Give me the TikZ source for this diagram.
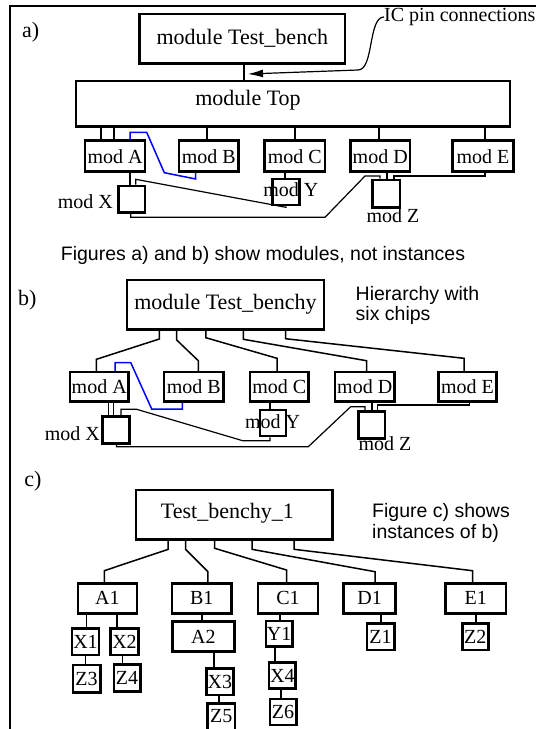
\documentclass[tikz,border=0pt]{standalone}
\usepackage{fontspec}
\setmainfont{Liberation Serif}
\setsansfont{Liberation Sans}
\usetikzlibrary{arrows.meta}

\begin{document}
\begin{tikzpicture}[x=1pt, y=-1pt,
  sz/.style 2 args={minimum width=#1pt, minimum height=#2pt},
  mod box/.style={draw, line width=2.6pt, inner sep=0pt, font=\fontsize{20}{22}\selectfont},
  big box/.style={draw, line width=2.6pt, inner sep=0pt, font=\fontsize{22}{24}\selectfont},
  big text/.style={inner sep=0pt, font=\fontsize{22}{24}\selectfont},
  mod label/.style={inner sep=0pt, font=\fontsize{20}{22}\selectfont},
  side note/.style={inner sep=0pt, align=left, font=\sffamily\fontsize{19.5}{20.5}\selectfont},
  wire/.style={line width=1.8pt},
  tree wire/.style={line width=1.5pt},
  thin wire/.style={line width=1.2pt},
  blue wire/.style={draw=blue, line width=1.5pt}]
\useasboundingbox (0,0) rectangle (536,729);
\draw[line width=1.2pt] (10,729) -- (10,6) -- (536,6);

% a) modules
\node[big text] (parta) at (30.7,32) {a)};
\node[big box, sz={205.5}{49.3}] (tb) at (242.3,38.7) {module Test\_bench};
\node[big box, sz={434}{45.7}] (top) at (293,103.9) {};
\node[big text] (toptext) at (248,100) {module Top};
\node[mod label, anchor=west] (ic) at (384,17) {IC pin connections};
\coordinate (ictip) at (248,74);
\node[mod box, sz={60}{31}] (mA) at (115,156.2) {mod A};
\node[mod box, sz={59.3}{31}] (mB) at (208.7,156.2) {mod B};
\node[mod box, sz={60.7}{31}] (mC) at (294.7,156.2) {mod C};
\node[mod box, sz={59.7}{31}] (mD) at (380.2,156.2) {mod D};
\node[mod box, sz={60.6}{31}] (mE) at (483,156.2) {mod E};
\node[mod box, sz={26.7}{26.7}] (mX) at (131.7,199.3) {};
\node[mod box, sz={26.6}{26}] (mY) at (286,192) {};
\node[mod box, sz={27.3}{27.7}] (mZ) at (386.3,193.8) {};
\node[mod label] (lX) at (85.3,201.7) {mod X};
\node[mod label] (lY) at (290.8,190) {mod Y};
\node[mod label] (lZ) at (393,216) {mod Z};

\draw[wire] (tb.south -| 244,0) -- (top.north -| 244,0);
\draw[thin wire, -{Latex[length=15pt, width=8pt]}] (ic.west) .. controls (368,17) and (374,70) .. (358,70) -- (ictip);
\foreach \n/\x in {mA/101, mA/113.7, mB/206.7, mC/295, mD/379, mE/485}
  \draw[wire] (top.south -| \x,0) -- (\n.north -| \x,0);
\draw[blue wire] (mA.north -| 130,0) -- (130,132.3) -- (146.7,132.3) -- (164.3,172.7) -- (195.7,179) -- (mB.south -| 195.7,0);
\draw[wire] (mA.south -| 130,0) -- (mX.north -| 130,0);
\draw[wire] (mC.south -| 285,0) -- (mY.north -| 285,0);
\draw[wire] (mD.south -| 387.3,0) -- (mZ.north -| 387.3,0);
\draw[thin wire] (mX.north -| 135.7,0) -- (135.7,179.3) -- (286,207.3) -- (mY.south -| 286,0);
\draw[thin wire] (mX.south -| 130.7,0) -- (130.7,217.3) -- (325,217.3) -- (365,176) -- (380,176) -- (mZ.north -| 380,0);
\draw[thin wire] (mZ.north -| 394,0) -- (394,176) -- (485,176) -- (mE.south -| 485,0);

\node[side note] (fignote) at (263,255) {Figures a) and b) show modules, not instances};

% b) modules, six chips
\node[big text] (partb) at (27.4,300) {b)};
\node[big box, sz={197}{49.3}] (tby) at (225.5,304.7) {module Test\_benchy};
\node[side note, anchor=west] (hier) at (355.5,305.5) {Hierarchy with\\six chips};
\node[mod box, sz={58.3}{29.7}] (bA) at (99.2,386.9) {mod A};
\node[mod box, sz={59.3}{29.7}] (bB) at (193.7,386.9) {mod B};
\node[mod box, sz={58.3}{29.7}] (bC) at (279.2,386.9) {mod C};
\node[mod box, sz={59.3}{29.7}] (bD) at (364.7,386.9) {mod D};
\node[mod box, sz={58.4}{29.7}] (bE) at (467.5,386.9) {mod E};
\node[mod box, sz={26.6}{26.6}] (bX) at (116,430) {};
\node[mod box, sz={26}{26}] (bY) at (273,423) {};
\node[mod box, sz={26.7}{26.6}] (bZ) at (371.7,425) {};
\node[mod label] (lbX) at (72.3,433.3) {mod X};
\node[mod label] (lbY) at (272.5,421.7) {mod Y};
\node[mod label] (lbZ) at (385,443.3) {mod Z};

\foreach \n/\x/\ya/\xb/\yb in {bA/159.3/339/96.4/359.3, bB/176.7/340/198.3/360.7, bC/205.8/337.7/277/358.3, bD/243.4/339.3/366.5/360.7, bE/285.5/338.7/464/358.3}
  \draw[tree wire] (tby.south -| \x,0) -- (\x,\ya) -- (\xb,\yb) -- (\n.north -| \xb,0);
\draw[blue wire] (bA.north -| 115,0) -- (115,362.5) -- (130.7,362.5) -- (151.7,409) -- (182.3,409) -- (bB.south -| 182.3,0);
\foreach \x in {108.3, 113.3}
  \draw[thin wire] (bA.south -| \x,0) -- (bX.north -| \x,0);
\draw[wire] (bC.south -| 270,0) -- (bY.north -| 270,0);
\draw[wire] (bD.south -| 371.7,0) -- (bZ.north -| 371.7,0);
\draw[thin wire] (bX.north -| 121,0) -- (121,409.3) -- (136.7,409.3) -- (242.7,440.7) -- (270,440.7) -- (bY.south -| 270,0);
\draw[thin wire] (bX.south -| 116.5,0) -- (116.5,446.7) -- (308.3,446.7) -- (350.7,406.7) -- (365,406.7) -- (bZ.north -| 365,0);
\draw[thin wire] (bZ.north -| 377.3,0) -- (377.3,405) -- (469.3,405) -- (bE.south -| 469.3,0);

% c) instances
\node[big text] (partc) at (33,481.7) {c)};
\node[big box, sz={196.6}{49.3}] (tb1) at (234.3,514.7) {};
\node[big text] (tb1text) at (227.4,513) {Test\_benchy\_1};
\node[side note, anchor=west] (inst) at (372,523) {Figure c) shows\\instances of b)};
\node[mod box, sz={58.8}{30}] (A1) at (107.4,598.3) {A1};
\node[mod box, sz={59.5}{30}] (B1) at (201.8,598.3) {B1};
\node[mod box, sz={60}{30}] (C1) at (288,598.3) {C1};
\node[mod box, sz={52}{30}] (D1) at (369.6,598.3) {D1};
\node[mod box, sz={60.5}{30}] (E1) at (475.8,598.3) {E1};
\node[mod box, sz={27.3}{26.7}] (X1) at (85.5,641.7) {X1};
\node[mod box, sz={28.1}{26.7}] (X2) at (124.5,641.7) {X2};
\node[mod box, sz={27.4}{27.7}] (Z3) at (86.5,678.9) {Z3};
\node[mod box, sz={26.4}{27.4}] (Z4) at (127,678) {Z4};
\node[mod box, sz={61.6}{30}] (A2) at (203.4,636.7) {A2};
\node[mod box, sz={27.3}{26.7}] (X3) at (219.9,681.7) {X3};
\node[mod box, sz={27.4}{33}] (Z5) at (221.2,719.8) {};
\node[mod label] (Z5text) at (221.2,716) {Z5};
\node[mod box, sz={26.3}{25.7}] (Y1) at (279.2,633.8) {Y1};
\node[mod box, sz={26.7}{25.6}] (X4) at (282.3,675.5) {X4};
\node[mod box, sz={26.4}{26}] (Z6) at (283,712) {Z6};
\node[mod box, sz={27.4}{26.7}] (Z1) at (380.5,636.7) {Z1};
\node[mod box, sz={26}{26.7}] (Z2) at (475.2,636.7) {Z2};

\foreach \n/\x/\ya/\xb/\yb in {A1/168.2/549.3/104.3/570.7, B1/185.6/549.3/207.9/571.7, C1/214.7/548.3/286.5/570, D1/252/549.3/375/571.7, E1/294/549.3/472.5/570.7}
  \draw[tree wire] (tb1.south -| \x,0) -- (\x,\ya) -- (\xb,\yb) -- (\n.north -| \xb,0);
\foreach \p/\c/\x in {A1/X1/86.5, X1/Z3/85.5, A1/X2/117.3, X2/Z4/122.4, B1/A2/201.7, A2/X3/213.7, X3/Z5/218.8, C1/Y1/279.7, Y1/X4/275.2, X4/Z6/281, D1/Z1/381.2, E1/Z2/475.9}
  \draw[wire] (\p.south -| \x,0) -- (\c.north -| \x,0);
\end{tikzpicture}
\end{document}
